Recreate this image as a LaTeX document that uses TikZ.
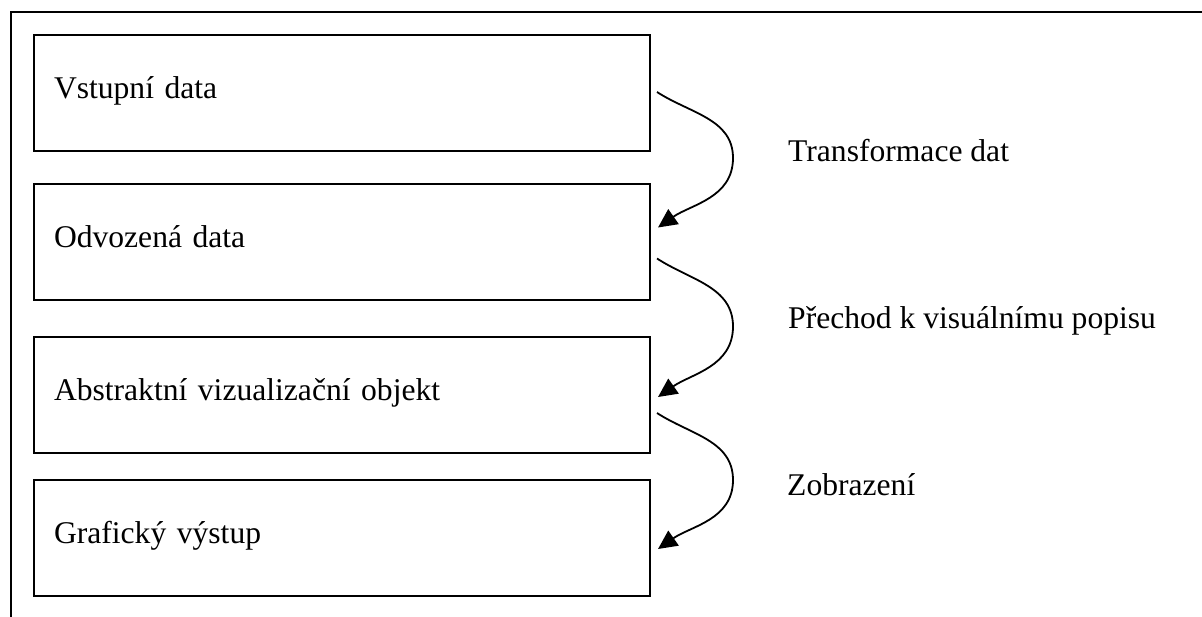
\documentclass[tikz,border=0pt]{standalone}
\usepackage{fontspec}
\setmainfont{Liberation Serif}
\usetikzlibrary{positioning,arrows.meta}

\begin{document}
\begin{tikzpicture}[x=1pt, y=-1pt, every node/.style={font=\fontsize{31.6}{38}\selectfont}]
  \tikzstyle{box}=[rectangle, draw, line width=1.8pt, outer sep=0pt, minimum height=116pt,
  text width=576pt, inner xsep=20pt, text height=16pt, text depth=6pt, align=left]
  \tikzstyle{flow}=[line width=1.8pt, -{Triangle[length=19pt,width=18pt]}]
  \tikzstyle{stagelabel}=[anchor=base west, inner sep=0pt]
  \useasboundingbox (0,0) rectangle (1202,616);
  % outer frame, cut by the page on the right and at the bottom
  \begin{scope}
    \clip (0,0) rectangle (1202,616);
    \draw[line width=2.2pt] (11,12) rectangle (1240,650);
  \end{scope}
  \node[box] (input) at (342,93) {Vstupní data};
  \node[box, below=33pt of input] (derived) {Odvozená data};
  \node[box, below=37pt of derived] (abstract) {Abstraktní vizualizační objekt};
  \node[box, below=27pt of abstract] (output) {Grafický výstup};
  \node[stagelabel] (transform) at (788,161) {Transformace dat};
  \node[stagelabel] (visual) at (788,328) {Přechod k visuálnímu popisu};
  \node[stagelabel] (display) at (787,495) {Zobrazení};
  \coordinate (s1) at ([xshift=7pt,yshift=1pt]input.east);
  \coordinate (e1) at ([xshift=8pt,yshift=14.5pt]derived.east);
  \coordinate (s2) at ([xshift=7pt,yshift=-16.5pt]derived.east);
  \coordinate (e2) at ([xshift=8pt,yshift=-2pt]abstract.east);
  \coordinate (s3) at ([xshift=7pt,yshift=-18pt]abstract.east);
  \coordinate (e3) at ([xshift=8pt,yshift=-11pt]output.east);
  \draw[flow] (s1) to[out=-33,in=90] ++(76,66) to[out=-90,in=35] (e1);
  \draw[flow] (s2) to[out=-33,in=90] ++(76,68) to[out=-90,in=35] (e2);
  \draw[flow] (s3) to[out=-33,in=90] ++(76,67) to[out=-90,in=35] (e3);
\end{tikzpicture}
\end{document}
